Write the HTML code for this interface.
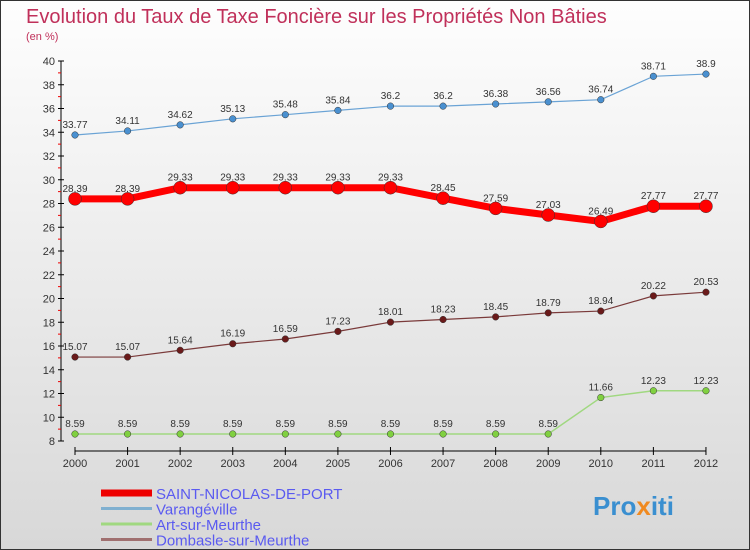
<!DOCTYPE html>
<html><head><meta charset="utf-8"><style>
body{margin:0;width:750px;height:550px;overflow:hidden;font-family:"Liberation Sans",sans-serif}
#wrap{position:relative;width:748px;height:548px;border:1px solid #333;background:linear-gradient(#fefefe,#d8d8d8)}
svg{position:absolute;left:0;top:0}
</style></head><body>
<div id="wrap">
<svg id="c" width="748" height="548">
<text x="25" y="22" font-size="20" fill="#c0305a">Evolution du Taux de Taxe Foncière sur les Propriétés Non Bâties</text>
<text x="25" y="39" font-size="11" fill="#c0305a">(en %)</text>
<text x="592" y="514" font-size="26" font-weight="bold" fill="#3a8fd0">Pro<tspan fill="#f08a20">x</tspan>iti</text>
</svg></div>
<script>
const years=[2000,2001,2002,2003,2004,2005,2006,2007,2008,2009,2010,2011,2012];
const saint=[28.39,28.39,29.33,29.33,29.33,29.33,29.33,28.45,27.59,27.03,26.49,27.77,27.77];
const varang=[33.77,34.11,34.62,35.13,35.48,35.84,36.2,36.2,36.38,36.56,36.74,38.71,38.9];
const art=[8.59,8.59,8.59,8.59,8.59,8.59,8.59,8.59,8.59,8.59,11.66,12.23,12.23];
const domb=[15.07,15.07,15.64,16.19,16.59,17.23,18.01,18.23,18.45,18.79,18.94,20.22,20.53];
const yTicks=[8,10,12,14,16,18,20,22,24,26,28,30,32,34,36,38,40];
const names=["SAINT-NICOLAS-DE-PORT","Varangéville","Art-sur-Meurthe","Dombasle-sur-Meurthe"];
const NS="http://www.w3.org/2000/svg",svg=document.getElementById('c');
const X=i=>74+i*52.58, Y=v=>440-(v-8)*11.875;
function mk(t,a,p){const e=document.createElementNS(NS,t);for(const k in a)e.setAttribute(k,a[k]);(p||svg).appendChild(e);return e;}
let ax=mk('line',{x1:60,y1:Y(40),x2:60,y2:Y(8),stroke:'#000'});

yTicks.forEach(v=>{mk('line',{x1:57,y1:Y(v),x2:63,y2:Y(v),stroke:'#000'});
 mk('line',{x1:57,y1:Y(v+1),x2:60,y2:Y(v+1),stroke:v<40?'#e00':'none'});
 const t=mk('text',{x:54,y:Y(v)+4,'text-anchor':'end','font-size':11,fill:'#333'});t.textContent=v;
 });
let xa=mk('line',{x1:74,y1:450,x2:X(12),y2:450,stroke:'#000'});

years.forEach((y,i)=>{mk('line',{x1:X(i),y1:446,x2:X(i),y2:454,stroke:'#000'});
 const t=mk('text',{x:X(i),y:466,'text-anchor':'middle','font-size':11,fill:'#333'});t.textContent=y;
 });
function series(d,col,dot,w,r,key){
 const g=mk('g',{});
 mk('polyline',{points:d.map((v,i)=>X(i)+','+Y(v)).join(' '),fill:'none',stroke:col,'stroke-width':w},g);
 d.forEach((v,i)=>{const c=mk('circle',{cx:X(i),cy:Y(v),r:r,fill:dot,stroke:'#333','stroke-width':0.5},g);
  
  const t=mk('text',{x:X(i),y:Y(v)-7,'text-anchor':'middle','font-size':10,fill:'#333'},g);t.textContent=v;
  });
}
series(varang,'#6aa3d5','#4a90d0',1.2,3.3,'varangeville');
series(domb,'#7a3a3a','#6a1a1a',1.2,3.3,'dombasle');
series(art,'#a0d880','#80d040',1.5,3.3,'art');
series(saint,'#f00','#f00',7,6.5,'saint-nicolas');
const cols=['#ee0000','#80b0d0','#a0d880','#a07070'],ws=[7,3,3,3];
names.forEach((n,i)=>{const y=492+i*15.5;
 const g=mk('g',{});
 mk('line',{x1:100,y1:y,x2:151,y2:y,stroke:cols[i],'stroke-width':ws[i]},g);
 const t=mk('text',{x:155,y:y+6,'font-size':15,fill:'#5a5af0'},g);t.textContent=n;});
</script>
</body></html>
